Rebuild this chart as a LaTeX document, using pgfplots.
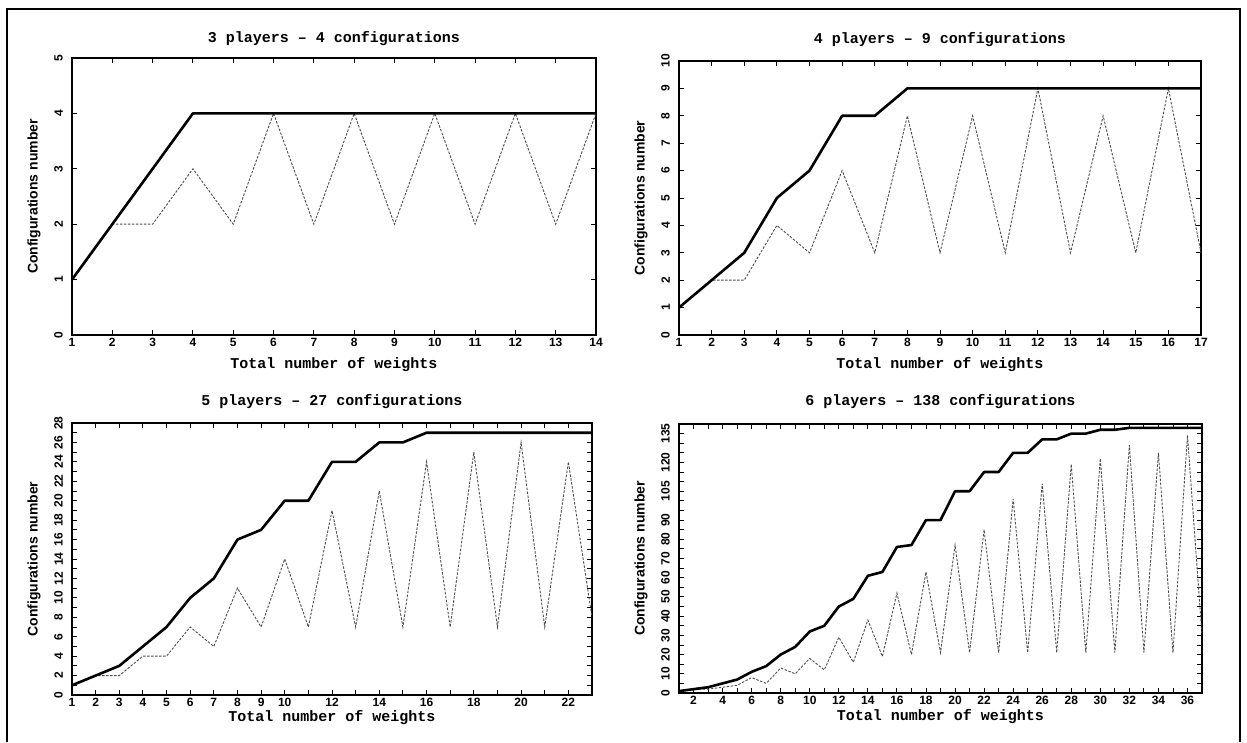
\documentclass[border=0pt]{standalone}
\usepackage{fontspec}
\setmainfont{Liberation Sans}
\newfontfamily\monob{Liberation Mono}
\usepackage{pgfplots}
\pgfplotsset{compat=1.18}
\pgfplotsset{
  panel/.style={
    scale only axis,
    axis line style={line width=2.6pt},
    tick style={black, line width=0.9pt},
    major tick length=5pt, minor tick length=5pt,
    tick align=inside,
    /pgf/number format/assume math mode=true,
    xticklabel style={font=\bfseries\fontsize{12}{12}\selectfont, inner sep=0pt},
    yticklabel style={font=\bfseries\fontsize{12}{12}\selectfont, rotate=90, anchor=south, inner sep=0pt},
    xticklabel shift=3pt,
    yticklabel shift=9pt,
    every axis title/.style={at={(axis description cs:0.5,1)}, anchor=center, yshift=#1,
      font=\monob\bfseries\fontsize{15}{15}\selectfont},
    every axis y label/.style={at={(axis description cs:0,0.5)}, xshift=-38pt, rotate=90, anchor=center,
      font=\bfseries\fontsize{14}{14}\selectfont},
    xlabel={Total number of weights},
    ylabel={Configurations number},
  },
  xl/.style={every axis x label/.style={at={(axis description cs:0.5,0)}, anchor=center, yshift=#1,
      font=\monob\bfseries\fontsize{15}{15}\selectfont}},
  solidl/.style={black, line width=2.6pt, line join=round, no marks},
  dashl/.style={black!70, line width=0.9pt, dash pattern=on 2.5pt off 1.5pt, no marks},
}
\begin{document}
\begin{tikzpicture}
\useasboundingbox (0,0) rectangle (1247pt,742pt);
\draw[line width=2.5pt] (7pt,0pt) -- (7pt,733pt) -- (1240pt,733pt) -- (1240pt,0pt);

% Panel 1: 3 players
\begin{axis}[panel=19pt, xl=-30pt, at={(72pt,407pt)}, anchor=south west,
  width=524pt, height=277pt,
  xmin=1, xmax=14, ymin=0, ymax=5,
  xtick={1,...,14}, ytick={0,...,5},
  title={3 players \textendash{} 4 configurations}]
\addplot[dashl] coordinates {(1,1)(2,2)(3,2)(4,3)(5,2)(6,4)(7,2)(8,4)(9,2)(10,4)(11,2)(12,4)(13,2)(14,4)};
\addplot[solidl] coordinates {(1,1)(2,2)(3,3)(4,4)(5,4)(6,4)(7,4)(8,4)(9,4)(10,4)(11,4)(12,4)(13,4)(14,4)};
\end{axis}

% Panel 2: 4 players
\begin{axis}[panel=21pt, xl=-30pt, at={(679pt,407pt)}, anchor=south west,
  width=522pt, height=274pt,
  xmin=1, xmax=17, ymin=0, ymax=10,
  xtick={1,...,17}, ytick={0,...,10},
  title={4 players \textendash{} 9 configurations}]
\addplot[dashl] coordinates {(1,1)(2,2)(3,2)(4,4)(5,3)(6,6)(7,3)(8,8)(9,3)(10,8)(11,3)(12,9)(13,3)(14,8)(15,3)(16,9)(17,3)};
\addplot[solidl] coordinates {(1,1)(2,2)(3,3)(4,5)(5,6)(6,8)(7,8)(8,9)(9,9)(10,9)(11,9)(12,9)(13,9)(14,9)(15,9)(16,9)(17,9)};
\end{axis}

% Panel 3: 5 players
\begin{axis}[panel=21pt, xl=-23pt, at={(72pt,47pt)}, anchor=south west,
  width=520pt, height=272pt,
  xmin=1, xmax=23, ymin=0, ymax=28,
  xtick={1,...,10,12,14,...,22}, minor xtick={1,...,23},
  ytick={0,2,...,28}, minor ytick={0,...,28},
  title={5 players \textendash{} 27 configurations}]
\addplot[dashl] coordinates {(1,1)(2,2)(3,2)(4,4)(5,4)(6,7)(7,5)(8,11)(9,7)(10,14)(11,7)(12,19)(13,7)(14,21)(15,7)(16,24)(17,7)(18,25)(19,7)(20,26)(21,7)(22,24)(23,8)};
\addplot[solidl] coordinates {(1,1)(2,2)(3,3)(4,5)(5,7)(6,10)(7,12)(8,16)(9,17)(10,20)(11,20)(12,24)(13,24)(14,26)(15,26)(16,27)(17,27)(18,27)(19,27)(20,27)(21,27)(22,27)(23,27)};
\end{axis}

% Panel 4: 6 players
\begin{axis}[panel=22pt, xl=-24pt, at={(679pt,49pt)}, anchor=south west,
  width=523pt, height=269pt,
  xmin=1, xmax=37, ymin=0, ymax=140,
  xtick={2,4,...,36}, minor xtick={1,...,37},
  ytick={0,10,...,90,105,120,135}, minor ytick={0,5,...,140},
  title={6 players \textendash{} 138 configurations}]
\addplot[dashl] coordinates {(1,1)(2,2)(3,2)(4,3)(5,4)(6,8)(7,5)(8,13)(9,10)(10,18)(11,12)(12,29)(13,16)(14,38)(15,19)(16,52)(17,20)(18,63)(19,21)(20,77)(21,21)(22,85)(23,21)(24,101)(25,21)(26,109)(27,21)(28,119)(29,21)(30,122)(31,21)(32,129)(33,21)(34,125)(35,21)(36,134)(37,30)};
\addplot[solidl] coordinates {(1,1)(2,2)(3,3)(4,5)(5,7)(6,11)(7,14)(8,20)(9,24)(10,32)(11,35)(12,45)(13,49)(14,61)(15,63)(16,76)(17,77)(18,90)(19,90)(20,105)(21,105)(22,115)(23,115)(24,125)(25,125)(26,132)(27,132)(28,135)(29,135)(30,137)(31,137)(32,138)(33,138)(34,138)(35,138)(36,138)(37,138)};
\end{axis}
\end{tikzpicture}
\end{document}
